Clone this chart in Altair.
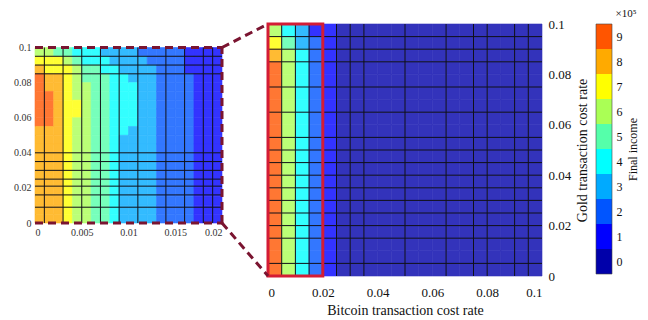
import altair as alt
import pandas as pd

# ---------------- data ----------------
# colour levels 0..9 (x10^5 final income), MATLAB jet(10)
JET10 = ["#0000AA", "#0000FF", "#0055FF", "#00AAFF", "#00FFFF",
         "#55FFAA", "#AAFF55", "#FFFF00", "#FFAA00", "#FF5500"]
LEVELS = [0, 1, 2, 3, 4, 5, 6, 7, 8, 9]
THRESHOLDS = [1, 2, 3, 4, 5, 6, 7, 8, 9]

# main heat map: 20 bitcoin-rate columns (0..0.1, step 0.005), 20 gold-rate rows (top -> bottom)
MAIN_STEP_X = 0.005
MAIN_STEP_Y = 0.005
MAIN_COLUMNS = [
    [6, 7, 8] + [9] * 17,
    [4, 5] + [6] * 18,
    [3, 3] + [4] * 18,
    [1] + [2] * 19,
    [1] * 20,
] + [[0] * 20 for _ in range(15)]

# inset: 20 bitcoin-rate columns (0..0.02, step 0.001), 20 gold-rate rows (top -> bottom)
INSET_STEP_X = 0.001
INSET_STEP_Y = 0.005
INSET_COLUMNS = [
    [6, 7, 8, 9, 9, 9, 9, 9, 9] + [8] * 11,
    [6, 7, 7, 8, 8, 9, 9, 9, 9] + [8] * 11,
    [5, 7, 7] + [8] * 17,
    [5, 6] + [7] * 18,
    [4, 5, 6, 6, 6, 6, 7, 7] + [6] * 12,
    [4, 4, 5, 5] + [6] * 16,
    [4, 4] + [5] * 18,
    [3, 4, 4] + [5] * 17,
    [3, 3] + [4] * 18,
    [3, 3, 3] + [4] * 7 + [3] * 10,
    [3, 3, 3, 3] + [4] * 5 + [3] * 11,
    [2] + [3] * 19,
    [2, 2] + [3] * 18,
    [2] * 20,
    [2] * 20,
    [2] * 20,
    [1, 1, 1] + [2] * 17,
    [1] * 20,
    [1] * 20,
    [1] * 20,
]

MAIN_VLINES = [0.005, 0.01, 0.015, 0.025, 0.03, 0.035, 0.05, 0.065, 0.075, 0.08, 0.09, 0.095]
MAIN_HLINES = [0.095, 0.09, 0.085, 0.075, 0.065, 0.055, 0.05, 0.045, 0.04, 0.035,
               0.03, 0.025, 0.02, 0.015, 0.005]
INSET_VLINES = [0.001, 0.003, 0.005, 0.007, 0.009, 0.011, 0.014, 0.016, 0.018, 0.019]
INSET_HLINES = [0.095, 0.09, 0.085, 0.04, 0.035, 0.03, 0.025, 0.021, 0.016, 0.009]

MAIN_TICKS = [0, 0.02, 0.04, 0.06, 0.08, 0.1]
INSET_X_TICKS = [0, 0.005, 0.01, 0.015, 0.02]
INSET_Y_TICKS = [0, 0.02, 0.04, 0.06, 0.08, 0.1]
CBAR_TICKS = [0.5, 1.5, 2.5, 3.5, 4.5, 5.5, 6.5, 7.5, 8.5, 9.5]

# ---------------- layout / style ----------------
VIEW_W, VIEW_H = 587, 252
INSET_XR, INSET_YR = [0, 187], [199, 23.5]
MAIN_XR, MAIN_YR = [233, 507], [252, 0]
CBAR_XR, CBAR_YR = [561, 577], [250, 0]
FONT = "Liberation Serif"
DARKRED = "#7A1430"
RED = "#D41C35"


def blend(hexc, a=0.8):
    r, g, b = (int(hexc[i:i + 2], 16) for i in (1, 3, 5))
    f = lambda c: round(a * c + (1 - a) * 255)
    return "#%02X%02X%02X" % (f(r), f(g), f(b))


HEAT = [blend(c) for c in JET10]


def cells(columns, sx, sy, top):
    rows = []
    for ci, col in enumerate(columns):
        for ri, v in enumerate(col):
            y1 = top - ri * sy
            rows.append({"x0": ci * sx, "x1": (ci + 1) * sx, "y0": y1 - sy, "y1": y1, "v": v})
    return pd.DataFrame(rows)


def lines(vs, hs, xmax, ymax):
    rows = [{"x0": v, "y0": 0, "x1": v, "y1": ymax} for v in vs]
    rows += [{"x0": 0, "y0": h, "x1": xmax, "y1": h} for h in hs]
    return pd.DataFrame(rows)


def sc(domain, rng):
    return alt.Scale(domain=domain, range=rng, nice=False, zero=False)


heat_fill = alt.Scale(type="threshold", domain=THRESHOLDS, range=HEAT)

# ---------------- inset ----------------
ix, iy = sc([0, 0.02], INSET_XR), sc([0, 0.1], INSET_YR)
ix_axis = alt.Axis(
    orient="bottom", offset=-(VIEW_H - INSET_YR[0]), values=INSET_X_TICKS, format="~g",
    title="", domain=False, ticks=False, labelFontSize=10, labelPadding=4,
    labelColor="#333", labelFont=FONT)
iy_axis = alt.Axis(
    orient="left", values=INSET_Y_TICKS, format="~g", title="", domain=True,
    domainColor="#222", domainWidth=1, ticks=False, labelFontSize=10, labelPadding=4,
    labelColor="#333", labelFont=FONT)


def inset_enc(ch):
    return ch.encode(x=alt.X("x0:Q", scale=ix, axis=ix_axis), x2="x1:Q",
                     y=alt.Y("y0:Q", scale=iy, axis=iy_axis), y2="y1:Q")


inset_df = cells(INSET_COLUMNS, INSET_STEP_X, INSET_STEP_Y, 0.1)
inset_rect = inset_enc(alt.Chart(inset_df).mark_rect(strokeWidth=0.6)).encode(
    fill=alt.Fill("v:Q", scale=heat_fill, legend=None),
    stroke=alt.Stroke("v:Q", scale=heat_fill, legend=None),
)
inset_grid = inset_enc(alt.Chart(lines(INSET_VLINES, INSET_HLINES, 0.02, 0.1)).mark_rule(
    color="#101018", strokeWidth=1))
inset_border_df = pd.DataFrame([
    {"x0": 0, "y0": 0.1, "x1": 0.02, "y1": 0.1},
    {"x0": 0, "y0": 0, "x1": 0.02, "y1": 0},
    {"x0": 0.02, "y0": 0, "x1": 0.02, "y1": 0.1},
])
inset_border = inset_enc(alt.Chart(inset_border_df).mark_rule(
    color=DARKRED, strokeWidth=3, strokeDash=[8, 5]))
inset = alt.layer(inset_rect, inset_grid, inset_border)

# ---------------- main ----------------
mx, my = sc([0, 0.1], MAIN_XR), sc([0, 0.1], MAIN_YR)
mx_axis = alt.Axis(
    orient="bottom", values=MAIN_TICKS, format="~g",
    title="Bitcoin transaction cost rate", domain=False, ticks=False,
    labelFontSize=13, labelPadding=10, labelFont=FONT, labelColor="#111",
    titleFont=FONT, titleFontSize=14, titleFontWeight="normal", titlePadding=4,
    titleColor="#111")
my_axis = alt.Axis(
    orient="right", offset=-(VIEW_W - MAIN_XR[1]), values=MAIN_TICKS, format="~g",
    title="Gold transaction cost rate", titleAngle=270, titleBaseline="top",
    domain=False, ticks=False,
    labelFontSize=13, labelPadding=6, labelFont=FONT, labelColor="#111",
    titleFont=FONT, titleFontSize=14, titleFontWeight="normal", titlePadding=5,
    titleColor="#111")


def main_enc(ch):
    return ch.encode(x=alt.X("x0:Q", scale=mx, axis=mx_axis), x2="x1:Q",
                     y=alt.Y("y0:Q", scale=my, axis=my_axis), y2="y1:Q")


main_df = cells(MAIN_COLUMNS, MAIN_STEP_X, MAIN_STEP_Y, 0.1)
main_rect = main_enc(alt.Chart(main_df).mark_rect(strokeWidth=0.6)).encode(
    fill=alt.Fill("v:Q", scale=heat_fill, legend=None),
    stroke=alt.Stroke("v:Q", scale=heat_fill, legend=None),
)
main_grid = main_enc(alt.Chart(lines(MAIN_VLINES, MAIN_HLINES, 0.1, 0.1)).mark_rule(
    color="#101018", strokeWidth=1))
red_box = main_enc(alt.Chart(pd.DataFrame([{"x0": 0, "x1": 0.02, "y0": 0, "y1": 0.1}])).mark_rect(
    fillOpacity=0, stroke=RED, strokeWidth=3))

# connector endpoints: inset right corners expressed in the main panel's units
px_x = 0.1 / (MAIN_XR[1] - MAIN_XR[0])
px_y = 0.1 / (MAIN_YR[0] - MAIN_YR[1])
cx = (INSET_XR[1] - MAIN_XR[0]) * px_x
conn_df = pd.DataFrame([
    {"x0": cx, "y0": (MAIN_YR[0] - INSET_YR[1]) * px_y, "x1": 0, "y1": 0.1},
    {"x0": cx, "y0": (MAIN_YR[0] - INSET_YR[0]) * px_y, "x1": 0, "y1": 0},
])
connectors = main_enc(alt.Chart(conn_df).mark_rule(
    color=DARKRED, strokeWidth=3, strokeDash=[8, 5]))
main = alt.layer(main_rect, main_grid, red_box, connectors)

# ---------------- colour bar ----------------
cbx, cby = sc([0, 1], CBAR_XR), sc([0, 10], CBAR_YR)
cby_axis = alt.Axis(
    orient="right", offset=-(VIEW_W - CBAR_XR[1]), values=CBAR_TICKS,
    labelExpr="floor(datum.value)",
    title="Final income", titleAngle=270, titleBaseline="top", titleX=15,
    domain=False, ticks=False,
    labelFontSize=12, labelPadding=4, labelFont=FONT, labelColor="#111",
    titleFont=FONT, titleFontSize=12, titleFontWeight="normal",
    titleColor="#111")


def cbar_enc(ch):
    return ch.encode(x=alt.X("x0:Q", scale=cbx, axis=None),
                     y=alt.Y("y0:Q", scale=cby, axis=cby_axis))


cbar_df = pd.DataFrame({"y0": LEVELS, "y1": [l + 1 for l in LEVELS], "v": LEVELS,
                        "x0": 0, "x1": 1})
cbar_rect = cbar_enc(alt.Chart(cbar_df).mark_rect()).encode(
    x2="x1:Q", y2="y1:Q",
    color=alt.Color("v:Q", scale=alt.Scale(type="threshold", domain=THRESHOLDS, range=JET10),
                    legend=None),
)
cbar_frame = cbar_enc(alt.Chart(pd.DataFrame([{"x0": 0, "x1": 1, "y0": 0, "y1": 10}])).mark_rect(
    fillOpacity=0, stroke="#444", strokeWidth=0.6)).encode(x2="x1:Q", y2="y1:Q")
cbar_text = cbar_enc(alt.Chart(pd.DataFrame([{"x0": 1, "y0": 10, "t": "×10⁵"}])).mark_text(
    font=FONT, fontSize=11, dx=14, dy=-10, color="#111")).encode(text="t:N")
cbar = alt.layer(cbar_rect, cbar_frame, cbar_text)

chart = alt.layer(inset, main, cbar).resolve_scale(
    x="independent", y="independent"
).properties(
    width=VIEW_W, height=VIEW_H,
    autosize=alt.AutoSizeParams(type="none"),
    padding={"left": 27, "top": 16, "right": 18, "bottom": 42},
).configure_view(stroke=None).configure_axis(
    grid=False, labelFont=FONT, titleFont=FONT
).configure_text(font=FONT)

chart.save("out.html", embed_options={"renderer": "svg", "actions": False})
